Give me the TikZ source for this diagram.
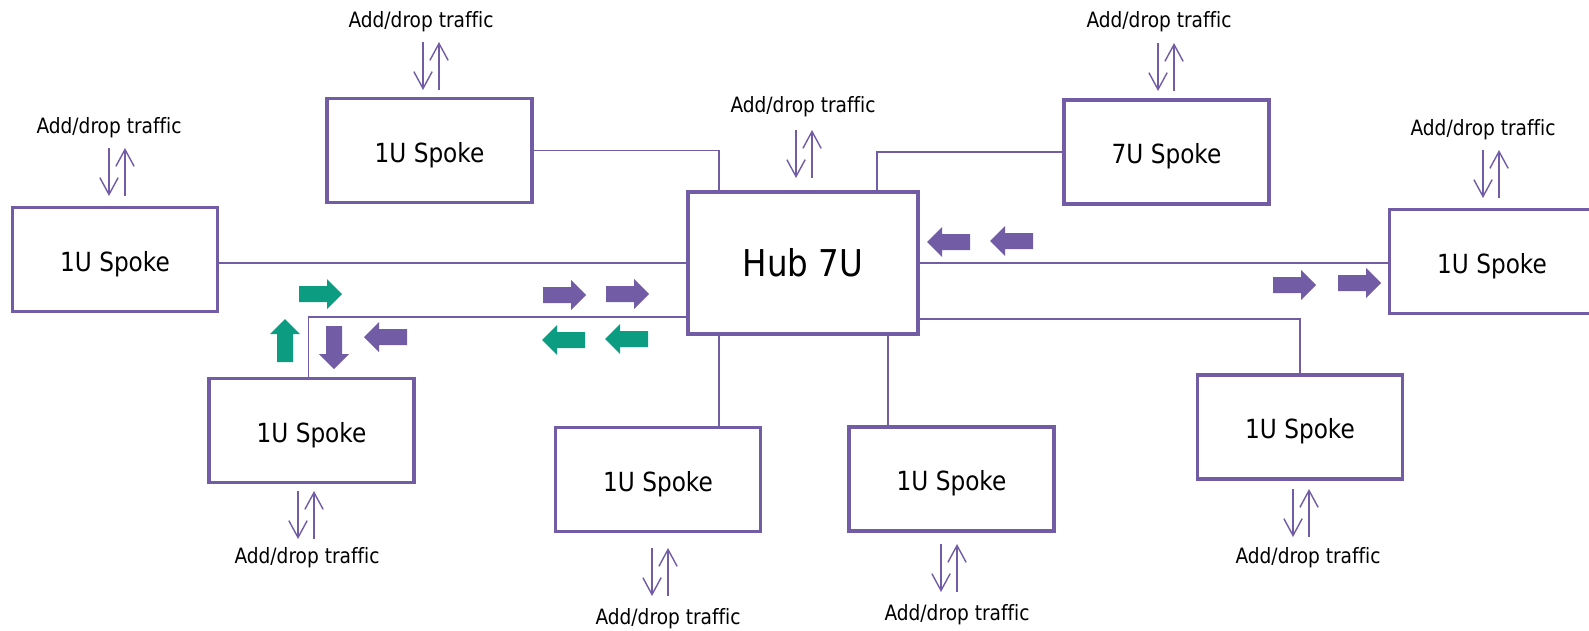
\documentclass[tikz,border=0pt]{standalone}
\usepackage{fontspec}
\setmainfont{DejaVu Sans}[FakeStretch=0.88, Ligatures=NoCommon]
\usetikzlibrary{arrows.meta,positioning,calc}

\definecolor{spokepurple}{RGB}{114,92,166}
\definecolor{flowgreen}{RGB}{12,156,130}

\tikzset{
  spoke/.style={draw=spokepurple, line width=0.95pt, minimum width=2.05cm, minimum height=1.04cm,
    inner sep=0pt, font=\fontsize{7.5}{9}\selectfont, text height=6.6pt, text depth=0pt},
  hubbox/.style={spoke, minimum width=2.3cm, minimum height=1.42cm,
    font=\fontsize{10.5}{12}\selectfont, text height=7.7pt},
  traffic/.style={anchor=base, inner sep=0pt, font=\fontsize{6}{7}\selectfont},
  link/.style={draw=spokepurple, line width=0.5pt},
  adddrop/.style={draw=spokepurple, line width=0.4pt, -{Straight Barb[length=4.8pt,width=5.2pt]}},
  blockarrow/.pic={\fill (0,-8) -- (28,-8) -- (28,-15) -- (43,0) -- (28,15) -- (28,8) -- (0,8) -- cycle;}
}

\begin{document}
\begin{tikzpicture}[x=0.01cm, y=-0.01cm]
    \useasboundingbox (0,0) rectangle (1589,630);
    \clip (0,0) rectangle (1589,630);

    % Hub and spokes
    \node[hubbox] (hub) at (803,263) {Hub 7U};
    \node[spoke] (spA) at (429.5,150.5) {1U Spoke};
    \node[spoke] (spB) at (115,259.5) {1U Spoke};
    \node[spoke] (spC) at (311.5,430.5) {1U Spoke};
    \node[spoke] (spD) at (658,479.5) {1U Spoke};
    \node[spoke] (spE) at (951.5,479) {1U Spoke};
    \node[spoke] (spF) at (1300,427) {1U Spoke};
    \node[spoke] (spG) at (1492,261.5) {1U Spoke};
    \node[spoke] (spH) at (1166.5,152) {7U Spoke};

    % Links to the hub
    \draw[link] (spA.east) -| ($(hub.north west)+(33,0)$);
    \draw[link] (spH.west) -| ($(hub.north east)+(-43,0)$);
    \draw[link] (spB.east |- hub.west) -- (hub.west);
    \draw[link] (hub.east) -- (spG.west |- hub.east);
    \draw[link] ($(spC.north)+(-3,0)$) |- ($(hub.south west)+(0,-19)$);
    \draw[link] ($(hub.south east)+(0,-17)$) -| (spF.north);
    \draw[link] ($(hub.south west)+(33,0)$) coordinate (linkD) -- (linkD |- spD.north);
    \draw[link] ($(hub.south east)+(-32,0)$) coordinate (linkE) -- (linkE |- spE.north);

    % Add/drop labels
    \node[traffic] (tA) at (421,27) {Add/drop traffic};
    \node[traffic] (tB) at (109,133) {Add/drop traffic};
    \node[traffic] (tHub) at (803,112) {Add/drop traffic};
    \node[traffic] (tH) at (1159,27) {Add/drop traffic};
    \node[traffic] (tG) at (1483,135) {Add/drop traffic};
    \node[traffic] (tC) at (307,563) {Add/drop traffic};
    \node[traffic] (tD) at (668,624) {Add/drop traffic};
    \node[traffic] (tE) at (957,620) {Add/drop traffic};
    \node[traffic] (tF) at (1308,563) {Add/drop traffic};

    % Add/drop arrow pairs
    \foreach \x/\y in {423/42, 109/148, 796/130, 1158/43, 1483/150, 298/491, 652/548, 941/544, 1293/489}
    {
        \draw[adddrop] (\x,\y) -- (\x,\y+48);
        \draw[adddrop] (\x+16,\y+48) -- (\x+16,\y);
    }

    % Traffic flow arrows
    \pic[color=flowgreen] at (299,294) {blockarrow};
    \pic[color=spokepurple] at (543,295) {blockarrow};
    \pic[color=spokepurple] at (606,294) {blockarrow};
    \pic[color=flowgreen, rotate=90] at (285,362) {blockarrow};
    \pic[color=spokepurple, rotate=-90] at (334,326) {blockarrow};
    \pic[color=spokepurple, rotate=180] at (407,337) {blockarrow};
    \pic[color=flowgreen, rotate=180] at (585,340) {blockarrow};
    \pic[color=flowgreen, rotate=180] at (648,339) {blockarrow};
    \pic[color=spokepurple, rotate=180] at (970,242) {blockarrow};
    \pic[color=spokepurple, rotate=180] at (1033,241) {blockarrow};
    \pic[color=spokepurple] at (1273,285) {blockarrow};
    \pic[color=spokepurple] at (1338,283) {blockarrow};
\end{tikzpicture}
\end{document}
